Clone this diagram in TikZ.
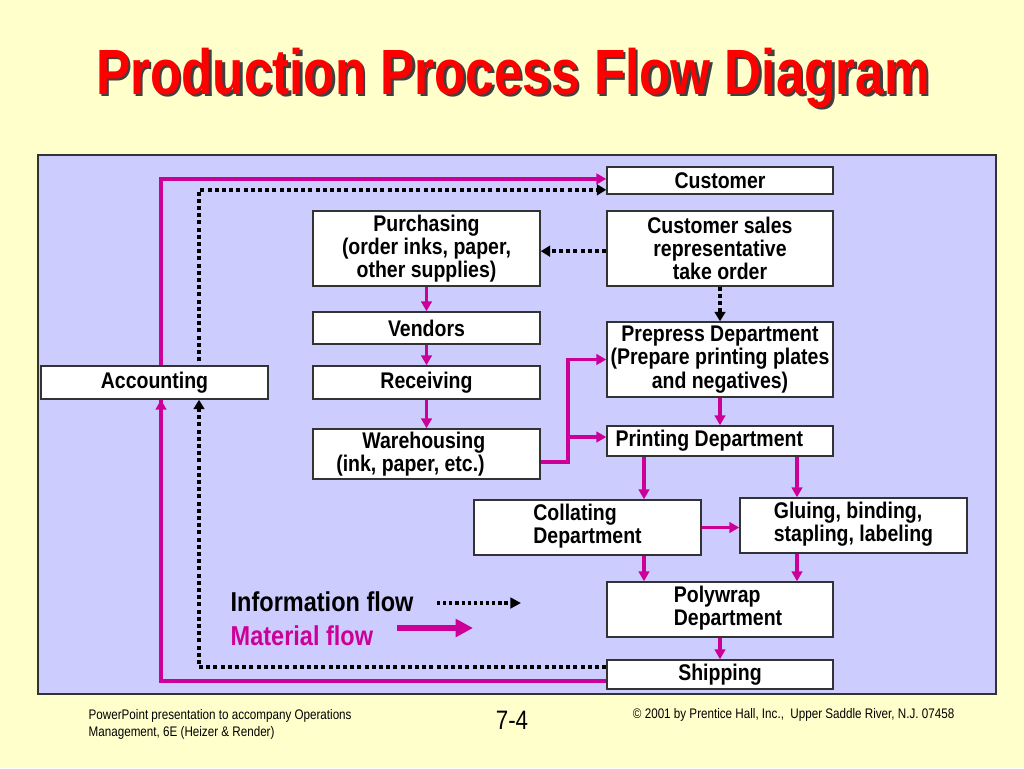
\documentclass[tikz,border=0pt]{standalone}
\usepackage{fontspec}
\setmainfont{Liberation Sans}[FakeStretch=0.86]
\newfontfamily\titlefont{Liberation Sans}[FakeStretch=0.80]
\newfontfamily\footfont{Liberation Sans}[FakeStretch=0.84]
\usetikzlibrary{arrows.meta,calc}
\definecolor{bgyellow}{HTML}{FFFFCC}
\definecolor{panel}{HTML}{CCCCFF}
\definecolor{mag}{HTML}{CC0099}
\definecolor{titlered}{HTML}{FF0000}
\definecolor{edge}{HTML}{333333}
\definecolor{tshadow}{HTML}{404040}
\newcommand\pbox[7]{\node[box,#6,minimum width={(#4-#2)*0.75pt},minimum height={(#5-#3)*0.75pt}] (#1) at ({(#2+#4)/2},{(#3+#5)/2}) {#7};}
\newcommand\shadowed[1]{\rlap{\hspace*{1.9pt}\raisebox{-1.9pt}{\color{tshadow}#1}}{\color{titlered}#1}}
\tikzset{
  box/.style={draw=edge,line width=1.1pt,fill=white,inner sep=0pt,align=center,
    font=\fontsize{17}{17.5}\selectfont\bfseries},
  mat/.style={draw=mag,line width=2.6pt,-{Triangle[length=7.5pt,width=8pt]}},
  info/.style={draw=black,line width=3pt,dash pattern=on 3pt off 2.4pt,-{Triangle[length=7pt,width=8pt]}},
}
\begin{document}
\begin{tikzpicture}[x=0.75pt,y=-0.75pt]
\useasboundingbox (0,0) rectangle (1024,768);
\fill[bgyellow] (0,0) rectangle (1024,768);
% title
\node[font=\titlefont\fontsize{48}{50}\selectfont\bfseries] (title) at (513,79) {\shadowed{Production Process Flow Diagram}};
% panel
\draw[edge,fill=panel,line width=1.1pt] (38,155) rectangle (996,694);
% boxes
\pbox{cust}{607}{167}{833}{194}{}{Customer}
\pbox{purch}{313}{211}{540}{286}{}{Purchasing\\(order inks, paper,\\other supplies)}
\pbox{rep}{607}{211}{833}{286}{}{Customer sales\\representative\\take order}
\pbox{vend}{313}{312}{540}{344}{}{Vendors}
\pbox{prep}{607}{322}{833}{397}{}{Prepress Department\\(Prepare printing plates\\and negatives)}
\pbox{acct}{41}{366}{268}{399}{}{Accounting}
\pbox{recv}{313}{366}{540}{399}{}{Receiving}
\pbox{ware}{313}{429}{540}{479}{}{\hspace*{12pt}Warehousing\hspace*{16pt}\\(ink, paper, etc.)\hspace*{24pt}}
\pbox{print}{607}{426}{833}{456}{}{Printing Department\hspace*{16pt}}
\pbox{coll}{474}{500}{701}{555}{}{\begin{tabular}{@{}l@{}}Collating\\Department\end{tabular}}
\pbox{glue}{740}{498}{967}{553}{}{\begin{tabular}{@{}l@{}}Gluing, binding,\\stapling, labeling\end{tabular}}
\pbox{poly}{607}{582}{833}{637}{}{\hspace*{12pt}\begin{tabular}{@{}l@{}}Polywrap\\Department\end{tabular}}
\pbox{ship}{607}{660}{833}{689}{}{Shipping}
% helper coordinates
\coordinate (m1) at (161,0);
\coordinate (d1) at (199,0);
\coordinate (jx) at (568,0);
\coordinate (c1) at (644,0);
\coordinate (c2) at (797,0);
\coordinate (pw) at ([yshift=3pt]print.west);
\coordinate (dtop) at ([yshift=3pt]acct.north -| d1);
% accounting loops
\draw[mat] (acct.north -| m1) |- ([yshift=1.2pt]cust.west);
\draw[info] (dtop) |- ([yshift=-7pt]cust.west);
\draw[mat,-] ([yshift=-4.9pt]ship.west) -| (m1 |- acct.south);
\draw[mat] ([yshift=-4.9pt]ship.west -| m1) -- (acct.south -| m1);
\draw[info] ([yshift=5.6pt]ship.west) -| (acct.south -| d1);
% info flows
\draw[info] ([yshift=-2pt]rep.west) -- ([yshift=-2pt]purch.east);
\draw[info] (rep.south) -- (prep.north);
% material flows
\draw[mat] (purch.south) -- (vend.north);
\draw[mat] (vend.south) -- (recv.north);
\draw[mat] (recv.south) -- (ware.north);
\draw[mat] ([yshift=-6pt]ware.east) -| (jx |- prep.west) -- (prep.west);
\draw[mat] (jx |- pw) -- (pw);
\draw[mat] (prep.south) -- (print.north);
\draw[mat] (print.south -| c1) -- (coll.north -| c1);
\draw[mat] (print.south -| c2) -- (glue.north -| c2);
\draw[mat] (coll.east) -- (coll.east -| glue.west);
\draw[mat] (coll.south -| c1) -- (poly.north -| c1);
\draw[mat] (glue.south -| c2) -- (poly.north -| c2);
\draw[mat] (poly.south) -- (ship.north);
% legend
\node[anchor=west,font=\fontsize{20.5}{22}\selectfont\bfseries] (linfo) at (226,602) {Information flow};
\node[anchor=west,font=\fontsize{20.5}{22}\selectfont\bfseries,text=mag] (lmat) at (226,636) {Material flow};
\coordinate (li1) at (437,603);
\coordinate (li2) at (521,603);
\coordinate (lm1) at (397,628);
\coordinate (lm2) at (473,628);
\draw[black,line width=2.4pt,dash pattern=on 2.4pt off 2.2pt,-{Triangle[length=8pt,width=8pt]}] (li1) -- (li2);
\draw[mag,line width=3.8pt,-{Triangle[length=13pt,width=13pt]}] (lm1) -- (lm2);
% footer
\node[anchor=north west,align=left,font=\footfont\fontsize{10.4}{12.8}\selectfont] (fl) at (84,705) {PowerPoint presentation to accompany Operations\\Management, 6E (Heizer \& Render)};
\node[font=\footfont\fontsize{20}{21}\selectfont] (fm) at (512,720) {7-4};
\node[anchor=north east,font=\footfont\fontsize{10.4}{12}\selectfont] (fr) at (959,704) {\textcopyright{} 2001 by Prentice Hall, Inc.,\ \ Upper Saddle River, N.J. 07458};
\end{tikzpicture}
\end{document}
